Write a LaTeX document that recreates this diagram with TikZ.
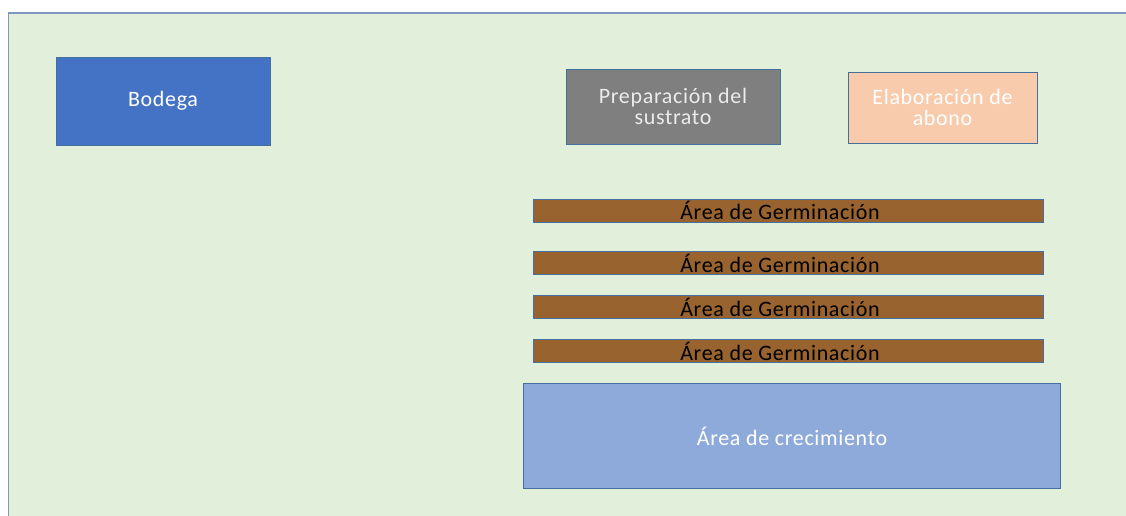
\documentclass[tikz,border=0pt]{standalone}
\usepackage{fontspec}
\setmainfont[LetterSpace=3]{Carlito}
\definecolor{bggreen}{HTML}{E2EFDA}
\definecolor{bgline}{HTML}{7F96C0}
\definecolor{outl}{HTML}{41719C}
\definecolor{bodega}{HTML}{4472C4}
\definecolor{prep}{HTML}{7F7F7F}
\definecolor{elab}{HTML}{F8CBAD}
\definecolor{germ}{HTML}{98632F}
\definecolor{crec}{HTML}{8EAADB}
\tikzset{
  area/.style={draw=outl, line width=0.9pt, inner sep=0pt, align=center,
    font=\fontsize{22}{21.5}\selectfont},
  bar/.style={area, fill=germ, text=black, minimum width=510pt, minimum height=23pt}
}
\begin{document}
\begin{tikzpicture}[x=1pt,y=-1pt]
\useasboundingbox (0,0) rectangle (1126,515);
\fill[bggreen] (8.5,13) rectangle (1130,520);
\draw[bgline, line width=1.5pt] (8.5,520) -- (8.5,13) -- (1130,13);
\node[area, fill=bodega, text=white, minimum width=214pt, minimum height=88pt] (bod) at (163,101) {Bodega};
\node[area, fill=prep, text=white!92!black, minimum width=214pt, minimum height=75pt] (prep) at (673,106.5) {Preparación del\\sustrato};
\node[area, fill=elab, text=white, minimum width=189pt, minimum height=71pt] (elab) at (942.5,107.5) {Elaboración de\\abono};
\node[bar] (g1) at (788,210.5) {Área de Germinación\hspace*{16pt}};
\node[bar] (g2) at (788,263) {Área de Germinación\hspace*{16pt}};
\node[bar] (g3) at (788,307) {Área de Germinación\hspace*{16pt}};
\node[bar] (g4) at (788,351) {Área de Germinación\hspace*{16pt}};
\node[area, fill=crec, text=white, minimum width=537pt, minimum height=105pt] (crec) at (792,436) {Área de crecimiento};
\end{tikzpicture}
\end{document}
